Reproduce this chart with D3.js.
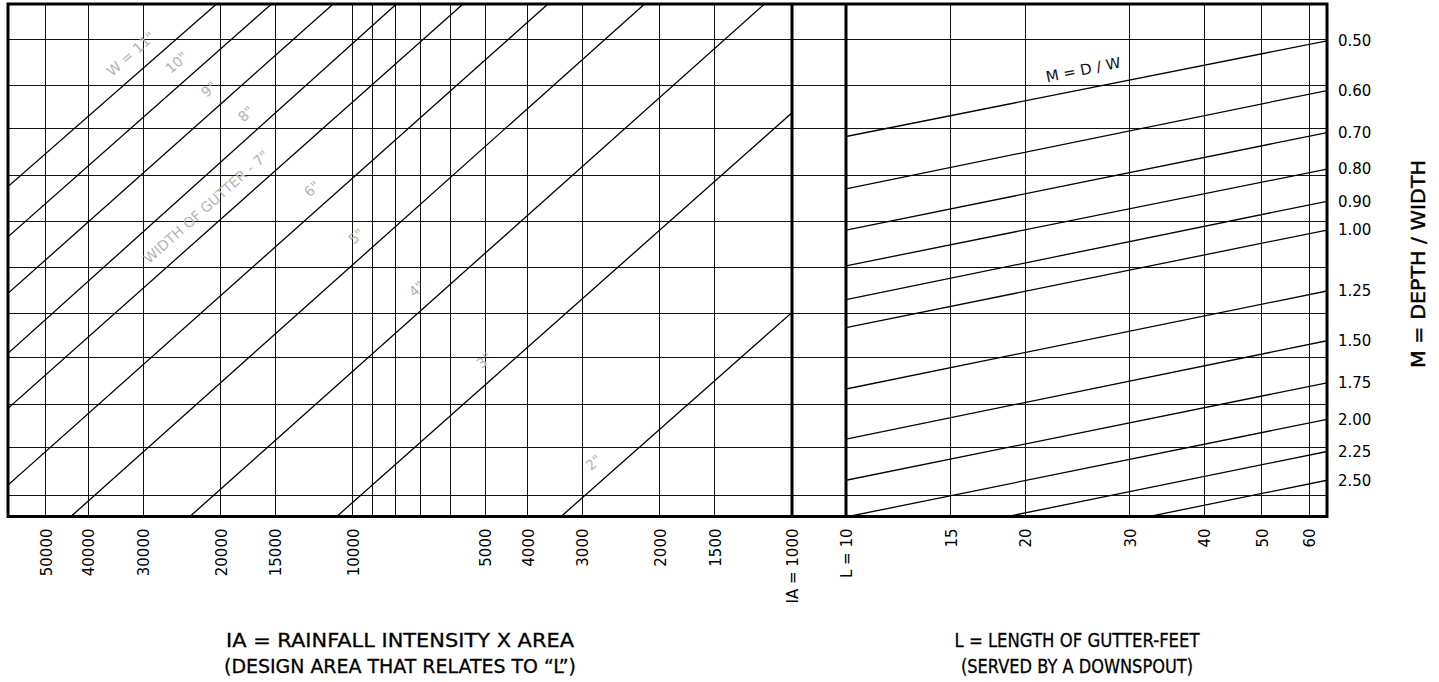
<!DOCTYPE html>
<html>
<head>
<meta charset="utf-8">
<script src="https://cdnjs.cloudflare.com/ajax/libs/d3/7.8.5/d3.min.js"></script>
<style>
  body { margin: 0; background: #fff; }
  svg { display: block; }
  text { font-family: "DejaVu Sans", sans-serif; }
</style>
</head>
<body>
<script>

var iaTicks = [50000, 40000, 30000, 20000, 15000, 10000, 5000, 4000, 3000, 2000, 1500];
var iaMinor = [9000, 8000, 7000, 6000];
var lTicks = [15, 20, 30, 40, 50, 60];
var mTicks = [0.50, 0.60, 0.70, 0.80, 0.90, 1.00, 1.25, 1.50, 1.75, 2.00, 2.25, 2.50];

// M each D/W line has at L = 10 (its left end)
var mAtL10 = [0.71, 0.86, 1.00, 1.14, 1.29, 1.43, 1.79, 2.15, 2.50, 2.86, 3.22, 3.58];

// horizontal rules of the graph paper, in M units
var gridM = [0.497, 0.589, 0.690, 0.820, 0.968, 1.147, 1.357, 1.592, 1.893, 2.219, 2.639];

// gutter width lines, each from (iaA, mA) to (iaB, mB)
var widths = ['W = 11"', '10"', '9"', '8"', 'WIDTH OF GUTTER - 7"', '6"', '5"', '4"', '3"', '2"'];
var iaA = [20440, 15320, 11090, 7958, 5613, 3595, 2166, 1155, 1000, 1000];
var mA  = [0.437, 0.437, 0.437, 0.437, 0.437, 0.437, 0.437, 0.437, 0.651, 1.352];
var iaB = [61000, 61000, 61000, 61000, 61000, 61000, 43850, 23500, 10880, 3356];
var mB  = [0.853, 1.025, 1.261, 1.571, 1.921, 2.545, 2.855, 2.855, 2.855, 2.855];

// ---- layout ----
var w = 1439, h = 682;
var yTop = 4, yBot = 516.5;
var x0 = 8, xMid = 792, xL = 846, xR = 1327;

var svg = d3.select("body")
	.append("svg")
	.attr("width", w)
	.attr("height", h);

svg.append("rect").attr("width", w).attr("height", h).attr("fill", "#fff");

var xIA = d3.scaleLog().domain([1000, 61000]).range([xMid, x0]);
var xLen = d3.scaleLog().domain([10, 64.3]).range([xL, xR]);
var yM = d3.scaleLog().domain([0.437, 2.855]).range([yTop, yBot]);

var defs = svg.append("defs");
defs.append("clipPath").attr("id", "clipLeft")
	.append("rect").attr("x", x0).attr("y", yTop).attr("width", xMid - x0).attr("height", yBot - yTop);
defs.append("clipPath").attr("id", "clipRight")
	.append("rect").attr("x", xL).attr("y", yTop).attr("width", xR - xL).attr("height", yBot - yTop);

// grid
var grid = svg.append("g").attr("stroke", "#111").attr("stroke-width", 1).attr("shape-rendering", "crispEdges");

grid.selectAll("line.h")
	.data(gridM)
	.enter().append("line")
	.attr("class", "h")
	.attr("x1", x0).attr("x2", xR)
	.attr("y1", d => yM(d)).attr("y2", d => yM(d));

grid.selectAll("line.vIA")
	.data(iaTicks.concat(iaMinor))
	.enter().append("line")
	.attr("class", "vIA")
	.attr("x1", d => xIA(d)).attr("x2", d => xIA(d))
	.attr("y1", yTop).attr("y2", yBot);

grid.selectAll("line.vL")
	.data(lTicks)
	.enter().append("line")
	.attr("class", "vL")
	.attr("x1", d => xLen(d)).attr("x2", d => xLen(d))
	.attr("y1", yTop).attr("y2", yBot);

// gutter width lines
var wData = widths.map((d, i) => ({
	label: d,
	p0: [xIA(iaA[i]), yM(mA[i])],
	p1: [xIA(iaB[i]), yM(mB[i])]
}));

svg.append("g").attr("clip-path", "url(#clipLeft)")
	.selectAll("line")
	.data(wData)
	.enter().append("line")
	.attr("x1", d => d.p0[0]).attr("y1", d => d.p0[1])
	.attr("x2", d => d.p1[0]).attr("y2", d => d.p1[1])
	.attr("stroke", "#000")
	.attr("stroke-width", 1.3);

// M = D/W lines
var mData = mTicks.map((m, i) => ({
	p0: [xLen(10), yM(mAtL10[i])],
	p1: [xLen(64.3), yM(m)]
}));

svg.append("g").attr("clip-path", "url(#clipRight)")
	.selectAll("line")
	.data(mData)
	.enter().append("line")
	.attr("x1", d => d.p0[0]).attr("y1", d => d.p0[1])
	.attr("x2", d => d.p1[0]).attr("y2", d => d.p1[1])
	.attr("stroke", "#000")
	.attr("stroke-width", 1.3);

// labels that sit along a line (lower-left point a, upper-right point b), offset to its upper-left side
function alongLine(a, b, xAt, off) {
	var t = (xAt - a[0]) / (b[0] - a[0]);
	var fy = a[1] + t * (b[1] - a[1]);
	var dx = b[0] - a[0], dy = b[1] - a[1];
	var len = Math.hypot(dx, dy);
	var ux = dx / len, uy = dy / len;
	var nx = uy, ny = -ux; // normal pointing up-left
	return { x: xAt + off * nx, y: fy + off * ny, a: Math.atan2(uy, ux) * 180 / Math.PI };
}

var labelIA = [30000, 23600, 19900, 16400, 20200, 11600, 9200, 6700, 4700, 2650];

svg.append("g")
	.selectAll("text")
	.data(wData)
	.enter().append("text")
	.each(function(d, i) {
		var p = alongLine(d.p1, d.p0, xIA(labelIA[i]), 19);
		d3.select(this)
			.attr("transform", `translate(${p.x},${p.y}) rotate(${p.a})`);
	})
	.attr("text-anchor", "middle")
	.attr("dominant-baseline", "central")
	.attr("font-size", "14px")
	.attr("fill", "#b3b3b3")
	.text(d => d.label);

var mLab = alongLine(mData[0].p0, mData[0].p1, xLen(25.4), 19);
svg.append("text")
	.attr("transform", `translate(${mLab.x},${mLab.y}) rotate(${mLab.a})`)
	.attr("text-anchor", "middle")
	.attr("dominant-baseline", "central")
	.attr("font-size", "15px")
	.attr("fill", "#111")
	.text("M = D / W");

// heavy frame and the two dividing rules
svg.append("rect")
	.attr("x", x0).attr("y", yTop)
	.attr("width", xR - x0).attr("height", yBot - yTop)
	.attr("fill", "none")
	.attr("stroke", "#000")
	.attr("stroke-width", 3);

svg.selectAll("line.div")
	.data([xMid, xL])
	.enter().append("line")
	.attr("class", "div")
	.attr("x1", d => d).attr("x2", d => d)
	.attr("y1", yTop).attr("y2", yBot)
	.attr("stroke", "#000")
	.attr("stroke-width", 3);

// axes
function styleBottom(g) {
	g.select(".domain").remove();
	g.selectAll(".tick line").remove();
	g.selectAll(".tick text")
		.attr("transform", "rotate(-90)")
		.attr("x", -12)
		.attr("y", 0)
		.attr("dy", "0.36em")
		.attr("text-anchor", "end")
		.attr("font-family", "DejaVu Sans, sans-serif")
		.attr("font-size", "15px")
		.attr("fill", "#000");
}

svg.append("g")
	.attr("transform", `translate(0, ${yBot})`)
	.call(d3.axisBottom(xIA)
		.tickValues(iaTicks.concat([1000]))
		.tickSize(0)
		.tickFormat(d => d === 1000 ? "IA = 1000" : d3.format("d")(d)))
	.call(styleBottom);

svg.append("g")
	.attr("transform", `translate(0, ${yBot})`)
	.call(d3.axisBottom(xLen)
		.tickValues([10].concat(lTicks))
		.tickSize(0)
		.tickFormat(d => d === 10 ? "L = 10" : d3.format("d")(d)))
	.call(styleBottom);

var rAxis = svg.append("g")
	.attr("transform", `translate(${xR}, 0)`)
	.call(d3.axisRight(yM)
		.tickValues(mTicks)
		.tickSize(0)
		.tickPadding(11)
		.tickFormat(d3.format(".2f")));
rAxis.select(".domain").remove();
rAxis.selectAll(".tick text")
	.attr("font-family", "DejaVu Sans, sans-serif")
	.attr("font-size", "15px")
	.attr("fill", "#000");

// titles
svg.append("text")
	.attr("transform", "translate(1418, 264) rotate(-90)")
	.attr("text-anchor", "middle")
	.attr("dominant-baseline", "central")
	.attr("font-size", "20px")
	.attr("stroke", "#000")
	.attr("stroke-width", 0.4)
	.attr("textLength", 208)
	.attr("lengthAdjust", "spacingAndGlyphs")
	.text("M = DEPTH / WIDTH");

var titles = [
	{ t: "IA = RAINFALL INTENSITY X AREA", x: 400, y: 640, len: 348 },
	{ t: "(DESIGN AREA THAT RELATES TO \u201CL\u201D)", x: 400, y: 666, len: 352 },
	{ t: "L = LENGTH OF GUTTER-FEET", x: 1077, y: 640, len: 245 },
	{ t: "(SERVED BY A DOWNSPOUT)", x: 1077, y: 666, len: 232 }
];

svg.selectAll("text.title")
	.data(titles)
	.enter().append("text")
	.attr("class", "title")
	.attr("x", d => d.x)
	.attr("y", d => d.y)
	.attr("text-anchor", "middle")
	.attr("dominant-baseline", "central")
	.attr("font-size", "19px")
	.attr("stroke", "#000")
	.attr("stroke-width", 0.3)
	.attr("textLength", d => d.len)
	.attr("lengthAdjust", "spacingAndGlyphs")
	.text(d => d.t);

</script>
</body>
</html>
